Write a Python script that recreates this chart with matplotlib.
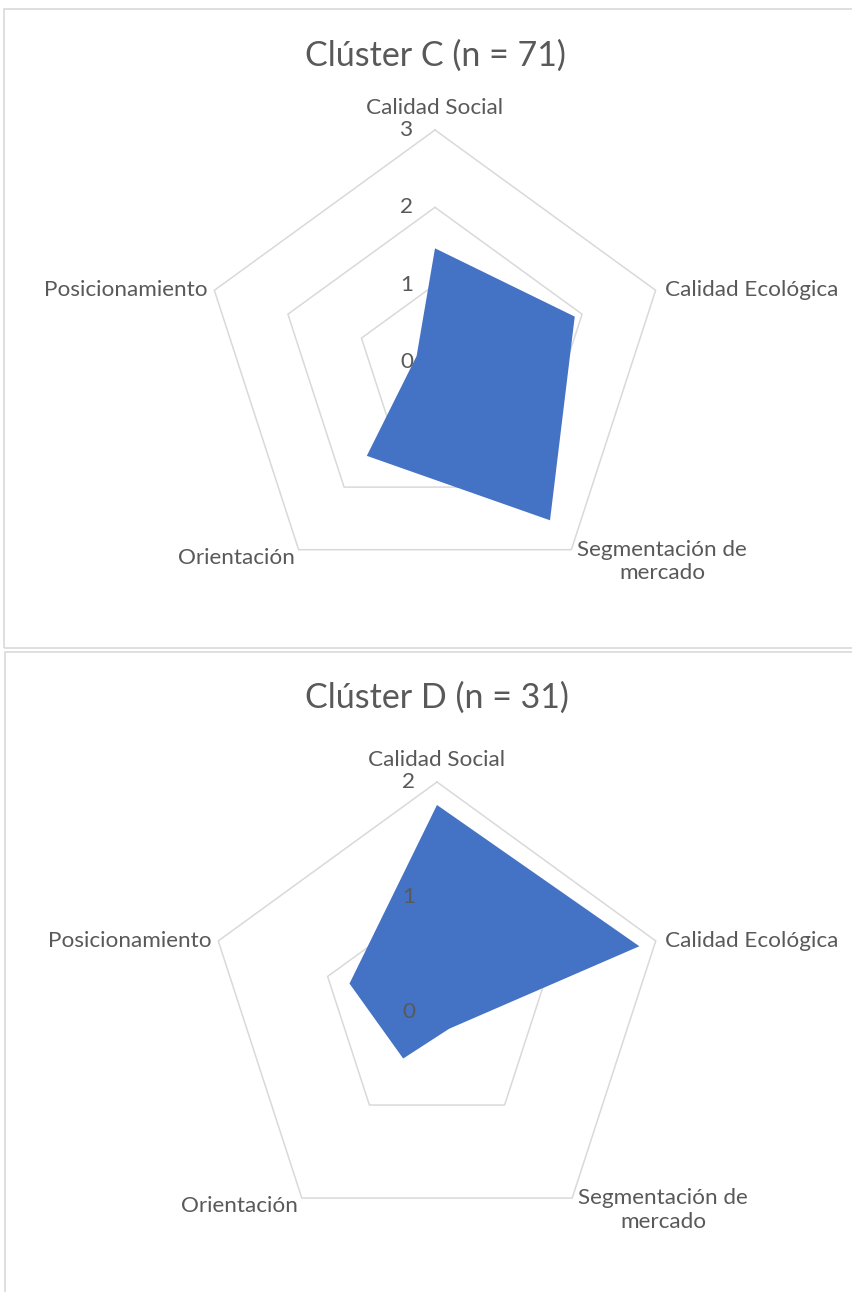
import numpy as np
import matplotlib.pyplot as plt
from matplotlib.patches import Rectangle

plt.rcParams['font.family'] = ['Lato', 'DejaVu Sans']

# data
categories = ['Calidad Social', 'Calidad Ecológica', 'Segmentación de\nmercado',
              'Orientación', 'Posicionamiento']
cluster_c = [1.47, 1.9, 2.53, 1.5, 0.25]
cluster_d = [1.8, 1.85, 0.18, 0.5, 0.8]
ticks_c = [0, 1, 2, 3]
ticks_d = [0, 1, 2]
title_c = 'Clúster C (n = 71)'
title_d = 'Clúster D (n = 31)'

W, H = 853, 1292
GRID = '#D9D9D9'
TXT = '#595959'
FILL = '#4472C4'
LBL_SIZE = 16.2
TITLE_SIZE = 24.5

fig = plt.figure(figsize=(W / 100, H / 100), dpi=100)

# chart area borders (pixel coords from top-left)
def box(x0, y0, x1, y1):
    r = Rectangle((x0 / W, 1 - y1 / H), (x1 - x0) / W, (y1 - y0) / H,
                  transform=fig.transFigure, fill=False, edgecolor=GRID, lw=1.2)
    fig.add_artist(r)

box(4, 9, 870, 648)
box(5, 652, 870, 1310)

# label offsets (pixels) and alignment for each category
lbl_pos = [((0, 12), 'center', 'bottom'),
           ((9, 0), 'left', 'center'),
           ((6, -12), 'left', 'center'),
           ((-4, -8), 'right', 'center'),
           ((-7, 0), 'right', 'center')]


def radar(cx, cy, R, values, ticks, title, ty):
    ax = fig.add_axes([(cx - R) / W, 1 - (cy + R) / H, 2 * R / W, 2 * R / H],
                      projection='polar')
    ax.set_theta_zero_location('N')
    ax.set_theta_direction(-1)
    ax.set_ylim(0, ticks[-1])
    ax.set_axis_off()

    ang = np.linspace(0, 2 * np.pi, len(categories), endpoint=False)
    ang_c = np.append(ang, ang[0])

    for t in ticks[1:]:
        ax.plot(ang_c, [t] * len(ang_c), color=GRID, lw=1.1, clip_on=False, zorder=1)

    v = np.append(values, values[0])
    ax.fill(ang_c, v, color=FILL, lw=0, clip_on=False, zorder=2)

    for t in ticks:
        ax.annotate(str(t), (0, t), xytext=(-22, 0), textcoords='offset pixels',
                    ha='right', va='center', color=TXT, fontsize=LBL_SIZE, zorder=4)

    for a, name, (off, ha, va) in zip(ang, categories, lbl_pos):
        ax.annotate(name, (a, ticks[-1]), xytext=off, textcoords='offset pixels',
                    ha=ha, va=va, color=TXT, fontsize=LBL_SIZE,
                    multialignment='center', annotation_clip=False)

    fig.text(cx / W, 1 - ty / H, title, ha='center', va='center',
             color=TXT, fontsize=TITLE_SIZE)


radar(435, 362, 232, cluster_c, ticks_c, title_c, 56)
radar(437, 1012, 230, cluster_d, ticks_d, title_d, 698)

fig.savefig('out.png', dpi=100, facecolor='white')
